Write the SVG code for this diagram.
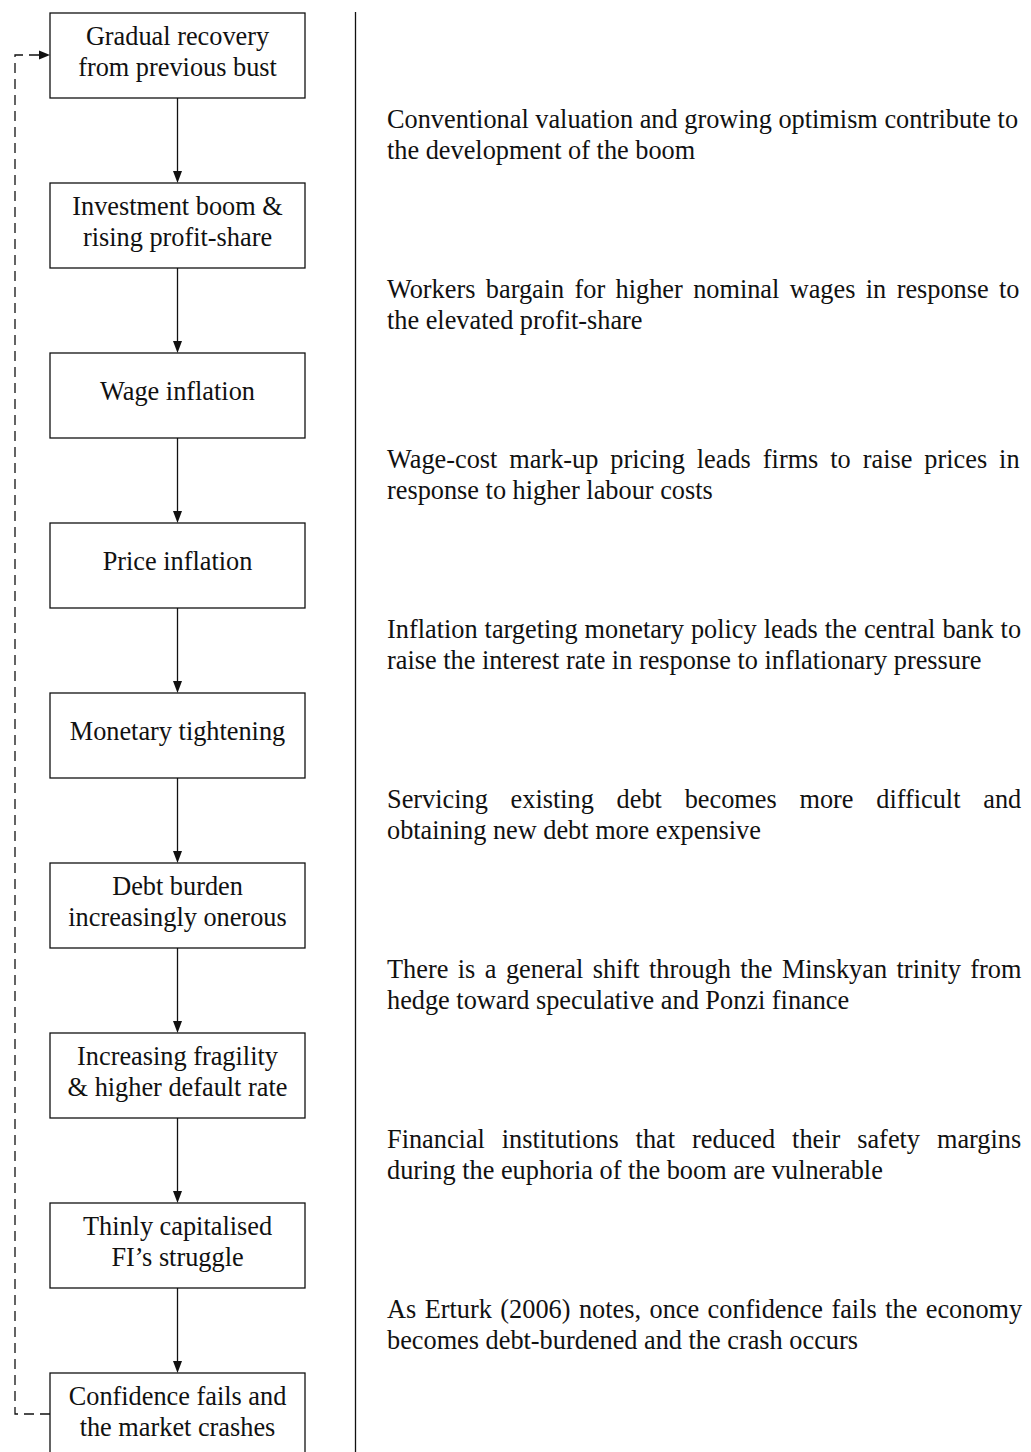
<svg xmlns="http://www.w3.org/2000/svg" width="1031" height="1452" viewBox="0 0 1031 1452">
<style>
.box{fill:#fff;stroke:#111;stroke-width:1.3}
.t{font-family:"Liberation Serif","Times New Roman",serif;font-size:26.3px;fill:#111}
.c{text-anchor:middle}
.ln{stroke:#111;stroke-width:1.3;fill:none}
.dash{stroke:#111;stroke-width:1.3;fill:none;stroke-dasharray:10 6}
.ah{fill:#111}
</style>
<rect width="1031" height="1452" fill="#fff"/>
<g id="connectors">
<line class="ln" x1="355.5" y1="12" x2="355.5" y2="1452" stroke-width="1.5"/>
<line class="ln" x1="177.5" y1="98" x2="177.5" y2="173"/><polygon class="ah" points="177.5,183 173,171 182,171"/>
<line class="ln" x1="177.5" y1="268" x2="177.5" y2="343"/><polygon class="ah" points="177.5,353 173,341 182,341"/>
<line class="ln" x1="177.5" y1="438" x2="177.5" y2="513"/><polygon class="ah" points="177.5,523 173,511 182,511"/>
<line class="ln" x1="177.5" y1="608" x2="177.5" y2="683"/><polygon class="ah" points="177.5,693 173,681 182,681"/>
<line class="ln" x1="177.5" y1="778" x2="177.5" y2="853"/><polygon class="ah" points="177.5,863 173,851 182,851"/>
<line class="ln" x1="177.5" y1="948" x2="177.5" y2="1023"/><polygon class="ah" points="177.5,1033 173,1021 182,1021"/>
<line class="ln" x1="177.5" y1="1118" x2="177.5" y2="1193"/><polygon class="ah" points="177.5,1203 173,1191 182,1191"/>
<line class="ln" x1="177.5" y1="1288" x2="177.5" y2="1363"/><polygon class="ah" points="177.5,1373 173,1361 182,1361"/>
<path class="dash" d="M50,1414 H15 V55 H40"/>
<polygon class="ah" points="50,55 39,50.5 39,59.5"/>
</g>
<g id="n1"><rect class="box" x="50" y="13" width="255" height="85"/><text class="t c" x="177.5" y="45">Gradual recovery</text><text class="t c" x="177.5" y="76">from previous bust</text></g>
<g id="n2"><rect class="box" x="50" y="183" width="255" height="85"/><text class="t c" x="177.5" y="215">Investment boom &amp;</text><text class="t c" x="177.5" y="246">rising profit-share</text></g>
<g id="n3"><rect class="box" x="50" y="353" width="255" height="85"/><text class="t c" x="177.5" y="400">Wage inflation</text></g>
<g id="n4"><rect class="box" x="50" y="523" width="255" height="85"/><text class="t c" x="177.5" y="570">Price inflation</text></g>
<g id="n5"><rect class="box" x="50" y="693" width="255" height="85"/><text class="t c" x="177.5" y="740">Monetary tightening</text></g>
<g id="n6"><rect class="box" x="50" y="863" width="255" height="85"/><text class="t c" x="177.5" y="895">Debt burden</text><text class="t c" x="177.5" y="926">increasingly onerous</text></g>
<g id="n7"><rect class="box" x="50" y="1033" width="255" height="85"/><text class="t c" x="177.5" y="1065">Increasing fragility</text><text class="t c" x="177.5" y="1096">&amp; higher default rate</text></g>
<g id="n8"><rect class="box" x="50" y="1203" width="255" height="85"/><text class="t c" x="177.5" y="1235">Thinly capitalised</text><text class="t c" x="177.5" y="1266">FI’s struggle</text></g>
<g id="n9"><rect class="box" x="50" y="1373" width="255" height="85"/><text class="t c" x="177.5" y="1405">Confidence fails and</text><text class="t c" x="177.5" y="1436">the market crashes</text></g>
<g id="notes">
<text class="t" x="387" y="128">Conventional valuation and growing optimism contribute to</text>
<text class="t" x="387" y="159">the development of the boom</text>
<text class="t" x="387" y="298" word-spacing="3.8">Workers bargain for higher nominal wages in response to</text>
<text class="t" x="387" y="329">the elevated profit-share</text>
<text class="t" x="387" y="468" word-spacing="5.4">Wage-cost mark-up pricing leads firms to raise prices in</text>
<text class="t" x="387" y="499">response to higher labour costs</text>
<text class="t" x="387" y="638" word-spacing="0.45">Inflation targeting monetary policy leads the central bank to</text>
<text class="t" x="387" y="669">raise the interest rate in response to inflationary pressure</text>
<text class="t" x="387" y="808" word-spacing="16.2">Servicing existing debt becomes more difficult and</text>
<text class="t" x="387" y="839">obtaining new debt more expensive</text>
<text class="t" x="387" y="978" word-spacing="2.9">There is a general shift through the Minskyan trinity from</text>
<text class="t" x="387" y="1009">hedge toward speculative and Ponzi finance</text>
<text class="t" x="387" y="1148" word-spacing="10.35">Financial institutions that reduced their safety margins</text>
<text class="t" x="387" y="1179">during the euphoria of the boom are vulnerable</text>
<text class="t" x="387" y="1318" word-spacing="1.9">As Erturk (2006) notes, once confidence fails the economy</text>
<text class="t" x="387" y="1349">becomes debt-burdened and the crash occurs</text>
</g>
</svg>
